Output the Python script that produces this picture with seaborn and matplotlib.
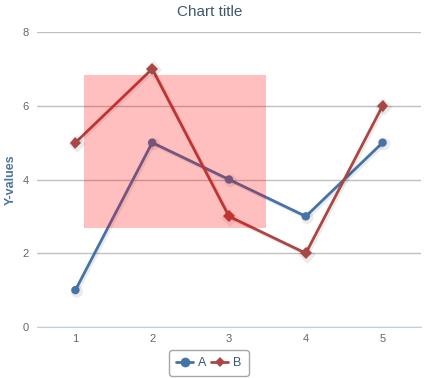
import pandas as pd
import numpy as np
import matplotlib.pyplot as plt
import matplotlib.patheffects as pe
from matplotlib.patches import Rectangle
import seaborn as sns

x_values = [1, 2, 3, 4, 5]
series_a = [1, 5, 4, 3, 5]
series_b = [5, 7, 3, 2, 6]
y_ticks = [0, 2, 4, 6, 8]

df = pd.DataFrame({
    "x": x_values * 2,
    "y": series_a + series_b,
    "series": ["A"] * 5 + ["B"] * 5,
})

sns.set_style("white")
plt.rcParams["font.family"] = ["Liberation Sans", "DejaVu Sans"]

fig = plt.figure(figsize=(4.31, 3.78), dpi=100)
ax = fig.add_axes([37 / 431, 51 / 378, 384 / 431, 295 / 378])

palette = {"A": "#4572A7", "B": "#AA4643"}
shadow = [pe.SimpleLineShadow(offset=(1, -1), shadow_color="#000000", alpha=0.08, linewidth=3), pe.Normal()]

sns.lineplot(data=df, x="x", y="y", hue="series", style="series",
             markers={"A": "o", "B": "D"}, dashes=False, palette=palette,
             linewidth=2, markersize=6, markeredgewidth=0, ax=ax, legend=False,
             path_effects=shadow, zorder=3)

# translucent band drawn over the series
ax.add_patch(Rectangle((1.11, 2.68), 2.37, 4.15, facecolor="#FF0000", alpha=0.25,
                       edgecolor="none", zorder=4))

ax.set_xlim(0.5, 5.5)
ax.set_ylim(0, 8)
ax.set_yticks(y_ticks)
ax.set_xticks(x_values)
ax.set_xticks([1.5, 2.5, 3.5, 4.5, 5.5], minor=True)
ax.yaxis.grid(True, color="#C0C0C0", linewidth=1)
ax.set_axisbelow(True)
for s in ["top", "right", "left"]:
    ax.spines[s].set_visible(False)
ax.spines["bottom"].set_color("#C0D0E0")
ax.tick_params(axis="x", which="major", length=0, pad=5, labelsize=8, colors="#666666")
ax.tick_params(axis="x", which="minor", length=5, color="#C0D0E0", width=1)
ax.tick_params(axis="y", length=0, pad=6, labelsize=8, colors="#666666")

ax.set_xlabel("")
ax.set_ylabel("Y-values", color="#4D759E", fontsize=9, fontweight="bold")
ax.yaxis.set_label_coords(-20 / 384, 0.5)
fig.text(210 / 431, 1 - 12 / 378, "Chart title", ha="center", va="center",
         fontsize=11, color="#3E576F")

handles = [
    plt.Line2D([], [], color=palette["A"], marker="o", linewidth=2, markersize=7, markeredgewidth=0),
    plt.Line2D([], [], color=palette["B"], marker="D", linewidth=2, markersize=5, markeredgewidth=0),
]
leg = fig.legend(handles, ["A", "B"], loc="center", bbox_to_anchor=(209 / 431, 1 - 363 / 378),
                 ncol=2, frameon=True, fontsize=9, handlelength=1.35, handletextpad=0.4,
                 columnspacing=0.4, borderpad=0.55, fancybox=True)
leg.get_frame().set_edgecolor("#909090")
leg.get_frame().set_linewidth(1)
for t in leg.get_texts():
    t.set_color("#3E576F")

fig.savefig("out.png", dpi=100)
